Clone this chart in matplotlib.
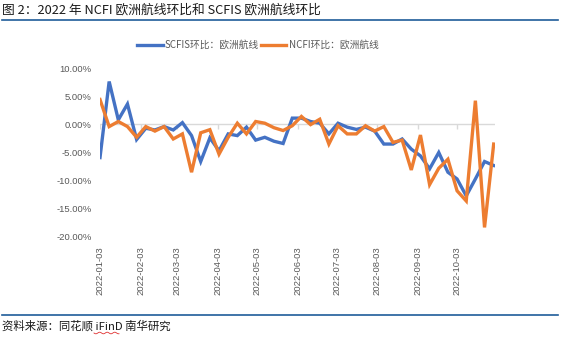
import numpy as np
import pandas as pd
import matplotlib
matplotlib.use("Agg")
import matplotlib.pyplot as plt
import matplotlib.dates as mdates
from matplotlib.lines import Line2D
import matplotlib.transforms as mtransforms

plt.rcParams['font.family'] = ['Noto Sans CJK SC', 'DejaVu Sans']

# ---- data ----
dates = pd.date_range('2022-01-03', periods=44, freq='7D')
scfis = [-5.9, 7.6, 0.8, 3.6, -2.7, -0.7, -1.0, -0.4, -1.0, 0.3,
         -2.0, -6.6, -2.4, -4.7, -1.7, -2.0, -0.5, -2.8, -2.3, -3.0,
         -3.4, 1.1, 1.1, 0.5, 0.2, -1.7, 0.2, -0.5, -0.9, -0.5,
         -1.2, -3.5, -3.5, -2.6, -4.4, -5.6, -7.9, -5.0, -8.5, -9.7,
         -12.7, -9.7, -6.6, -7.3]
ncfi = [4.4, -0.4, 0.5, -0.4, -2.3, -0.4, -1.2, -0.4, -2.6, -1.7,
        -8.5, -1.5, -0.95, -5.3, -2.3, 0.2, -1.7, 0.5, 0.2, -0.6,
        -1.1, -0.25, 1.4, -0.05, 0.9, -3.5, -0.25, -1.7, -1.7, -0.25,
        -1.2, -0.4, -3.2, -2.8, -8.1, -1.9, -10.7, -7.8, -6.2, -11.8,
        -13.6, 4.2, -18.3, -3.5]
series_names = ['SCFIS环比：欧洲航线', 'NCFI环比：欧洲航线']
yticks = [10, 5, 0, -5, -10, -15, -20]
title = '图 2：2022 年 NCFI 欧洲航线环比和 SCFIS 欧洲航线环比'
source = '资料来源：同花顺 iFinD 南华研究'

W, H = 562, 337
fig = plt.figure(figsize=(W / 100, H / 100), dpi=100)

def fx(px):
    return px / W

def fy(py):
    return 1 - py / H

ax = fig.add_axes([fx(100), fy(237), fx(395), fy(68) - fy(237)])

blue = '#4472C4'
orange = '#ED7D31'
gray = '#595959'

ax.plot(dates, scfis, color=blue, lw=2.4, label=series_names[0], solid_joinstyle='miter', zorder=3)
ax.plot(dates, ncfi, color=orange, lw=2.4, label=series_names[1], solid_joinstyle='miter', zorder=4)

ax.set_ylim(-20, 10)
ax.set_xlim(pd.Timestamp('2022-01-03'), pd.Timestamp('2022-11-01'))
ax.set_yticks(yticks)
ax.set_yticklabels([f'{v:.2f}%' for v in yticks], family=['Liberation Sans', 'DejaVu Sans'],
                   fontsize=6.8, color=gray)
ax.tick_params(axis='y', length=0, pad=6)

ax.xaxis.set_major_locator(mdates.MonthLocator(bymonthday=3))
ax.xaxis.set_major_formatter(mdates.DateFormatter('%Y-%m-%d'))
for lab in ax.get_xticklabels():
    lab.set_rotation(90)
    lab.set_fontsize(6.8)
    lab.set_color(gray)
    lab.set_family(['Liberation Sans', 'DejaVu Sans'])
ax.tick_params(axis='x', length=0, pad=7)

for s in ax.spines.values():
    s.set_visible(False)

ax.axhline(0, color='#D9D9D9', lw=1.0, zorder=1)
# tick marks below zero line
trans = mtransforms.blended_transform_factory(ax.transData, ax.transAxes)
tick_locs = ax.get_xticks()
zero_frac = (0 - (-20)) / 30
ax.vlines(tick_locs, zero_frac - 4.5 / 169, zero_frac, transform=trans, color='#D9D9D9', lw=1.0, zorder=1)

# legend
fig.legend(loc='center', bbox_to_anchor=(fx(258), fy(45)), ncol=2, frameon=False,
           prop={'family': ['Noto Sans CJK SC', 'DejaVu Sans'], 'size': 7},
           labelcolor=gray, handlelength=2.6, handletextpad=0.25, columnspacing=0.2,
           borderaxespad=0, borderpad=0)

# title and rules
fig.text(fx(2), fy(10), title, fontsize=9.2, color='#1a1a1a', va='center', ha='left')
rule_color = '#1F5C99'
fig.add_artist(Line2D([fx(2), fx(558)], [fy(19.5), fy(19.5)], color=rule_color, lw=1.2))
fig.add_artist(Line2D([fx(2), fx(558)], [fy(314.5), fy(314.5)], color=rule_color, lw=1.2))
fig.text(fx(2), fy(326), source, fontsize=8.2, color='#1a1a1a', va='center', ha='left')
# spell-check style wavy underline under iFinD
wx = np.linspace(94, 119, 60)
wy = 333 + 0.8 * np.sin((wx - 94) / 1.2)
fig.add_artist(Line2D(fx(wx), fy(wy), color='#E03030', lw=0.6))

fig.savefig('out.png', dpi=100)
